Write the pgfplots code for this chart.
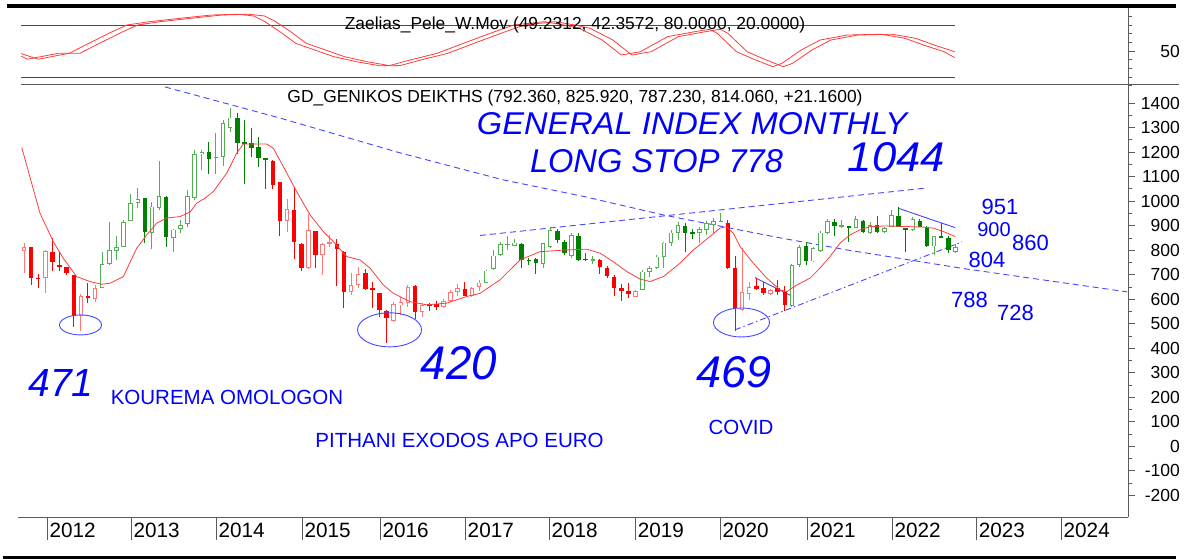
\documentclass[border=0pt]{standalone}
\usepackage{fontspec}
\setmainfont{Liberation Sans}
\usepackage{graphicx}
\usepackage{pgfplots}
\usepackage{pgfplotstable}
\pgfplotsset{compat=1.18}

\definecolor{redF}{RGB}{255,0,0}
\definecolor{redH}{RGB}{255,120,120}
\definecolor{grnF}{RGB}{0,128,0}
\definecolor{grnH}{RGB}{85,175,85}
\definecolor{maRed}{RGB}{255,60,60}
\definecolor{ink}{RGB}{0,0,255}
\definecolor{trend}{RGB}{70,70,255}
\definecolor{axisgray}{RGB}{90,90,90}

% monthly candles, i = bar number (Oct 2011 = 0)
\pgfplotstableread{
i o h l c
0 798 831 706 811
3 686 800 624 798
8 531 620 471 612
10 601 658 590 647
37 920 1009 876 967
40 727 948 722 883
42 781 828 699 825
43 830 862 815 832
46 629 706 618 658
47 658 732 645 702
52 513 590 505 581
53 575 611 536 588
54 584 658 570 651
56 547 586 527 577
59 567 602 565 594
60 594 638 590 631
61 630 662 613 645
63 612 650 610 647
64 651 679 635 668
86 611 636 610 635
101 556 808 553 629
102 620 672 597 651
105 621 643 618 638
}\redUp
\pgfplotstableread{
i o h l c
1 811 812 659 688
2 686 702 647 683
4 794 851 717 751
5 741 794 713 731
6 732 733 699 706
7 698 700 488 531
9 612 665 584 604
35 1165 1167 1049 1067
36 1078 1080 858 920
38 962 1053 763 833
39 827 830 713 727
41 878 880 727 781
44 826 845 654 804
45 794 796 563 629
48 706 725 639 641
49 645 672 563 641
50 624 626 529 556
51 552 555 420 522
55 654 656 518 547
57 578 584 553 574
58 582 594 556 570
62 643 672 613 615
81 760 762 703 731
82 729 736 686 696
83 692 699 613 645
84 645 662 594 634
85 634 665 604 620
99 910 924 722 727
100 727 777 469 563
103 655 686 638 642
104 645 672 618 624
106 645 679 618 631
107 629 654 553 577
}\redDn
\pgfplotstableread{
i o h l c
11 647 794 645 744
12 744 914 740 801
13 797 856 758 812
14 815 924 811 914
15 920 1031 917 992
16 992 1053 971 1008
18 872 996 804 978
19 971 1162 964 1020
21 851 886 794 884
22 886 924 872 902
23 906 1045 896 1020
24 1012 1209 1005 1192
25 1192 1209 1128 1200
27 1176 1280 1110 1182
28 1182 1330 1144 1318
29 1298 1382 1284 1341
65 668 720 666 717
66 722 801 719 778
67 781 835 777 825
68 822 858 801 826
69 818 845 816 831
73 744 831 727 829
74 812 896 808 883
77 778 869 767 861
80 760 777 744 763
87 638 720 636 713
88 713 736 690 727
89 727 781 722 774
90 774 835 727 831
91 829 883 815 872
92 872 913 842 903
95 869 896 829 886
96 883 917 862 910
97 903 931 869 920
98 916 951 913 919
108 573 742 568 740
109 740 822 733 812
111 754 815 750 808
112 797 879 794 872
113 869 927 866 917
115 899 924 890 900
117 892 940 890 927
119 869 914 866 903
121 873 895 872 892
122 896 964 894 944
125 883 937 880 927
128 815 858 781 856
131 792 826 787 814
}\grnUp
\pgfplotstableread{
i o h l c
17 1012 1014 829 876
20 1016 1020 812 853
26 1202 1240 1110 1171
30 1341 1359 1192 1239
31 1240 1332 1069 1233
32 1236 1300 1180 1216
33 1220 1260 1141 1176
34 1175 1178 1050 1172
70 825 831 727 760
71 760 770 740 757
72 763 767 703 747
75 880 886 829 842
76 834 842 781 788
78 858 869 757 760
79 765 788 754 762
93 899 910 794 872
94 873 886 845 870
110 815 835 740 754
114 913 927 856 900
116 897 899 835 895
118 921 924 871 873
120 903 940 869 873
123 940 978 894 896
124 890 892 794 886
126 921 927 894 896
127 896 898 812 815
129 858 910 851 853
130 849 856 788 801
}\grnDn

\pgfplotsset{
  wick/.style={draw=none, mark=none, forget plot,
    error bars/.cd, y dir=both, y explicit, error mark=none,
    error bar style={line width=1pt, draw=#1}},
  body/.style={draw=none, mark=none, forget plot,
    error bars/.cd, y dir=both, y explicit, error mark=none,
    error bar style={line width=4.5pt, draw=#1}},
  hole/.style={draw=none, mark=none, forget plot,
    error bars/.cd, y dir=both, y explicit, error mark=none,
    error bar style={line width=2.7pt, draw=white}},
  panel/.style={scale only axis, width=1110pt, anchor=south west,
    xmin=-0.844, xmax=155.27,
    axis y line*=right,
    axis line style={axisgray, line width=0.8pt},
    tick style={axisgray, line width=0.8pt},
    tick align=outside, major tick length=7pt, minor tick length=3.5pt,
    yticklabel style={font=\fontsize{17.5}{20}\selectfont, anchor=east, inner sep=0pt, xshift=45pt},
    /pgf/number format/assume math mode=true,
    /pgf/number format/1000 sep={}},
}

\begin{document}
\begin{tikzpicture}[x=1pt,y=1pt]
\useasboundingbox (0,0) rectangle (1192,559);

% ---------- oscillator panel ----------
\begin{axis}[panel, at={(18pt,473.3pt)}, height=78.7pt,
  ymin=10, ymax=100.7, axis x line=none,
  ytick={50}, minor ytick={10,20,30,40,60,70,80,90,100}]
\addplot[red, line width=0.9pt] coordinates {(-0.42,80) (131,80)};
\addplot[red, line width=0.9pt] coordinates {(-0.42,20) (131,20)};
\addplot[maRed, line width=0.8pt] coordinates {
(-0.4,47) (2.0,40.5) (6.3,47.3) (7.9,47.5) (10.6,58.8) (13.9,72.2) (16,80)
(19.2,83.8) (23.5,87.7) (27.9,91.5) (31.6,92.3) (33.8,90.4) (35.4,83.8)
(37.5,72.2) (39.7,58.9) (42.4,51.1) (45.1,43.4) (48.3,37.6) (51.5,33.0)
(52.9,33.2) (55.8,39.6) (59.6,47.3) (63.9,60.7) (67.7,72.2) (70.4,80)
(74.7,83.8) (77.4,80) (79.6,76.2) (82.8,62.7) (85.5,45.4) (88.2,49.2)
(92,66.5) (95.8,72.2) (97.9,75) (99,70.4) (101.7,49.2) (104.4,39.6)
(106.8,31.9) (108.1,35.8) (110.8,51.1) (113.5,62.7) (117.3,68.4)
(122.1,69.3) (125.4,64.6) (128,56.9) (130.9,49.2)};
\addplot[maRed, line width=0.8pt] coordinates {
(-0.4,44) (0.5,40.5) (4.8,47.3) (6.4,47.5) (9.1,58.8) (12.4,72.2) (14.5,80)
(17.7,83.8) (22,87.7) (26.4,91.5) (30.1,92.3) (32.3,90.4) (33.9,83.8)
(36,72.2) (38.2,58.9) (40.9,51.1) (43.6,43.4) (46.8,37.6) (50,33)
(51.4,33.2) (54.3,39.6) (58.1,47.3) (62.4,60.7) (66.2,72.2) (68.9,80)
(73.2,83.8) (75.9,80) (78.1,76.2) (81.3,62.7) (84,45.4) (86.7,49.2)
(90.5,66.5) (94.3,72.2) (96.4,75) (97.5,70.4) (100.2,49.2) (102.9,39.6)
(105.3,31.9) (106.6,35.8) (109.3,51.1) (112,62.7) (115.8,68.4)
(120.6,69.3) (123.9,64.6) (126.5,56.9) (129.4,49.2) (130.9,42.4)};
\end{axis}

% ---------- price panel ----------
\begin{axis}[panel, at={(18pt,42pt)}, height=433pt,
  ymin=-288.6, ymax=1478, axis x line*=bottom,
  ytick={-200,-100,...,1400}, minor y tick num=1,
  xtick={3.23,15.05,27.0,39.1,50.07,62.03,73.84,85.94,97.89,110.1,122.08,133.9,145.85},
  xticklabels={2012,2013,2014,2015,2016,2017,2018,2019,2020,2021,2022,2023,2024},
  xtick style={draw=none},
  xticklabel style={font=\fontsize{20.7}{24}\selectfont, anchor=west, inner sep=0pt, xshift=2.5pt, yshift=-6pt}]

% trend lines
\addplot[trend, line width=0.9pt, dash pattern=on 6pt off 4pt] coordinates {
(19.83,1466) (36.01,1339) (52.88,1197) (67.37,1087) (78.90,1018)
(89.87,944) (105.63,854) (115.75,801) (132.35,724) (155.13,630)};
\addplot[trend, line width=0.9pt, dash pattern=on 6pt off 4pt] coordinates {(64.14,860) (126.72,1053)};
\addplot[trend, line width=0.9pt, dash pattern=on 6pt off 3pt on 1.5pt off 3pt] coordinates {(100.0,475) (131.93,834)};
\addplot[trend, line width=0.9pt] coordinates {(122.97,971) (130.94,892)};
\addplot[trend, line width=0.9pt] coordinates {(102.81,688) (107.97,613)};

% candles: wicks, bodies, hollow centres
\addplot[wick=redH] table[x=i, y expr={(\thisrow{h}+\thisrow{l})/2}, y error expr={(\thisrow{h}-\thisrow{l})/2}] {\redUp};
\addplot[wick=redF] table[x=i, y expr={(\thisrow{h}+\thisrow{l})/2}, y error expr={(\thisrow{h}-\thisrow{l})/2}] {\redDn};
\addplot[wick=grnH] table[x=i, y expr={(\thisrow{h}+\thisrow{l})/2}, y error expr={(\thisrow{h}-\thisrow{l})/2}] {\grnUp};
\addplot[wick=grnF] table[x=i, y expr={(\thisrow{h}+\thisrow{l})/2}, y error expr={(\thisrow{h}-\thisrow{l})/2}] {\grnDn};
\addplot[body=redH] table[x=i, y expr={(\thisrow{o}+\thisrow{c})/2}, y error expr={max(abs(\thisrow{o}-\thisrow{c})/2,2.5)}] {\redUp};
\addplot[body=redF] table[x=i, y expr={(\thisrow{o}+\thisrow{c})/2}, y error expr={max(abs(\thisrow{o}-\thisrow{c})/2,2.5)}] {\redDn};
\addplot[body=grnH] table[x=i, y expr={(\thisrow{o}+\thisrow{c})/2}, y error expr={max(abs(\thisrow{o}-\thisrow{c})/2,2.5)}] {\grnUp};
\addplot[body=grnF] table[x=i, y expr={(\thisrow{o}+\thisrow{c})/2}, y error expr={max(abs(\thisrow{o}-\thisrow{c})/2,2.5)}] {\grnDn};
\addplot[hole] table[x=i, y expr={(\thisrow{o}+\thisrow{c})/2}, y error expr={max(abs(\thisrow{o}-\thisrow{c})/2-3.7,0)}] {\redUp};
\addplot[hole] table[x=i, y expr={(\thisrow{o}+\thisrow{c})/2}, y error expr={max(abs(\thisrow{o}-\thisrow{c})/2-3.7,0)}] {\grnUp};

% moving average
\addplot[maRed, line width=0.8pt] coordinates {
(-0.32,1219) (2.25,951) (4.12,835) (5.53,767) (7.41,692) (9.28,672)
(10.93,661) (12.10,665) (13.97,692) (15.85,808) (17.26,862) (18.66,910)
(20.07,931) (21.94,937) (23.35,955) (24.29,992) (25.46,1012) (26.62,1039)
(28.51,1114) (29.92,1196) (30.84,1233) (34.14,1233) (35.06,1216)
(36.47,1141) (38.35,1039) (40.23,944) (42.10,876) (43.50,835) (45.39,774)
(47.26,760) (48.66,727) (50.53,658) (51.94,624) (54.29,590) (56.64,577)
(59.45,584) (62.26,611) (64.14,624) (66.95,679) (69.76,760) (72.57,794)
(76.33,801) (79.14,804) (81.01,788) (82.88,753) (84.77,713) (86.64,682)
(88.05,672) (89.92,692) (92.27,747) (94.14,801) (96.48,856) (97.89,890)
(98.83,896) (99.76,869) (100.70,815) (102.57,747) (104.46,686)
(106.33,638) (107.27,631) (108.68,658) (110.55,686) (111.95,727)
(113.36,774) (114.77,829) (116.17,862) (117.58,883) (118.99,896)
(121.34,899) (124.61,896) (126.48,894) (127.89,890) (129.30,876)
(130.94,856)};

% circled lows
\draw[trend, line width=0.9pt] (axis cs:7.95,495) ellipse [x radius=21pt, y radius=10pt];
\draw[trend, line width=0.9pt] (axis cs:51.41,475) ellipse [x radius=32pt, y radius=17pt];
\draw[trend, line width=0.9pt] (axis cs:100.91,505) ellipse [x radius=28pt, y radius=14.5pt];
\end{axis}

% year separators below the time axis
\foreach \px in {47,131,216,302,380,465,549,635,720,807,892,976,1061}
  \draw[axisgray, line width=0.8pt] (\px,41) -- (\px,19);

% frame lines
\fill (7,550.7) rectangle (1176,555);
\fill (3,0) rectangle (1176,2.5);
\draw[axisgray, line width=0.8pt] (21,475) -- (1179,475);

% titles
\node[anchor=base, inner sep=0pt, font=\fontsize{17.4}{20}\selectfont] at (575,529.7)
  {Zaelias\_Pele\_W.Mov (49.2312, 42.3572, 80.0000, 20.0000)};
\node[anchor=base, inner sep=0pt, font=\fontsize{17.4}{20}\selectfont] at (575,456.3)
  {GD\_GENIKOS DEIKTHS (792.360, 825.920, 787.230, 814.060, +21.1600)};

% handwritten notes
\begin{scope}[every node/.style={inner sep=0pt, text=ink, font=\itshape}]
\node at (692,435) {\resizebox{430pt}{22pt}{GENERAL INDEX MONTHLY}};
\node at (656.5,397.5) {\resizebox{253pt}{23pt}{LONG STOP 778}};
\node at (896.5,401.5) {\resizebox{97pt}{29pt}{1044}};
\node at (61,176) {\resizebox{65pt}{27pt}{471}};
\node at (459,195.5) {\resizebox{76pt}{33pt}{420}};
\node at (734,186.5) {\resizebox{75pt}{31pt}{469}};
\end{scope}

% typed notes
\begin{scope}[every node/.style={inner sep=0pt, text=ink, font=\fontsize{20.5}{24}\selectfont}]
\node at (227,161.5) {KOUREMA OMOLOGON};
\node at (459.5,119) {PITHANI EXODOS APO EURO};
\node at (741,132) {COVID};
\node[font=\fontsize{22}{26}\selectfont] at (1000,352.5) {951};
\node[font=\fontsize{20}{24}\selectfont] at (994,329) {900};
\node[font=\fontsize{22}{26}\selectfont] at (1030.5,316) {860};
\node[font=\fontsize{22}{26}\selectfont] at (987,299) {804};
\node[font=\fontsize{22}{26}\selectfont] at (969.5,259) {788};
\node[font=\fontsize{22}{26}\selectfont] at (1015.5,246) {728};
\end{scope}
\end{tikzpicture}
\end{document}
